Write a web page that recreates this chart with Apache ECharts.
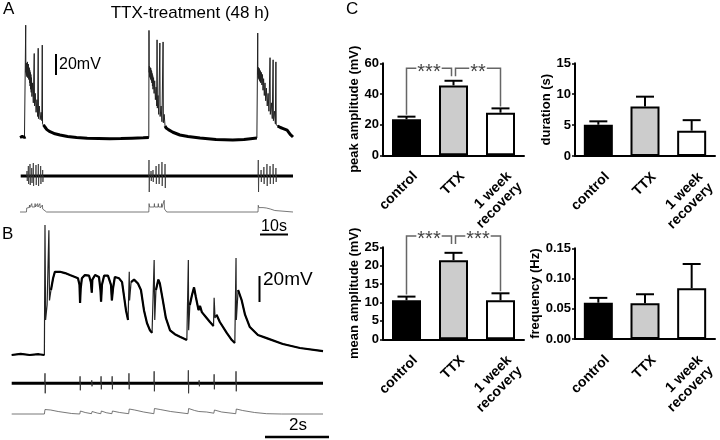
<!DOCTYPE html>
<html><head><meta charset="utf-8">
<script src="https://cdn.jsdelivr.net/npm/echarts@6/dist/echarts.min.js"></script>
<style>html,body{margin:0;padding:0;background:#fff}#c{width:720px;height:440px}</style>
</head><body><div id="c"></div>
<script>
// ---------- Panel A (TTX-treatment 48 h), time in s, membrane potential in mV above baseline ----------
const traceA = [
 [0,0],[0.8,1],[1.6,0],[2.0,0.5],
 [2.04,107],[2.1,62],[2.18,71],[2.26,60],[2.34,70],[2.42,58],[2.5,71],[2.58,59],[2.66,72],[2.74,57],[2.82,69],[2.9,58],[2.98,70],[3.06,56],[3.14,67],[3.22,55],[3.3,66],[3.4,52],[3.5,64],[3.6,49],[3.7,62],[3.8,46],[3.9,60],[4.0,43],[4.1,57],[4.25,39],[4.5,52],[4.75,33],[5.08,80],[5.18,30],[5.45,42],[5.75,24],[6.05,36],[6.3,20],[6.5,85],[6.6,18],[6.9,30],[7.2,17],[7.55,24],[7.8,16],[7.95,88],[8.05,13],
 [8.4,12],[8.9,10],[9.6,7.5],[10.7,5.5],[12.5,3.5],[14.3,2.4],[17,1],[20.2,0],[24,-0.8],[28,-1],[32,-1.2],[36,-1],[40,-0.6],[44,-0.3],[46.0,0],
 [46.07,102],[46.13,62],[46.22,68],[46.3,58],[46.38,67],[46.46,57],[46.54,66],[46.62,56],[46.7,66],[46.78,55],[46.86,64],[46.94,54],[47.02,63],[47.1,52],[47.2,61],[47.3,49],[47.4,59],[47.5,46],[47.7,57],[47.9,42],[48.1,54],[48.35,36],[48.6,48],[48.85,30],[48.95,93],[49.05,28],[49.3,40],[49.55,22],[49.95,90],[50.05,20],[50.4,30],[50.7,15],[51.1,91],[51.2,14],[51.5,22],
 [51.8,11],[52.2,9],[53,7.5],[54.6,5],[57.1,2.4],[60,1],[64.3,-0.5],[70,-1.8],[76,-2.4],[80,-1.8],[84.6,-0.5],
 [84.9,99.5],[84.96,60],[85.04,67],[85.12,57],[85.2,66],[85.28,56],[85.36,66],[85.44,55],[85.52,65],[85.6,54],[85.7,64],[85.8,53],[85.9,63],[86.0,52],[86.2,62],[86.4,50],[86.6,60],[86.8,45],[87.0,56],[87.25,40],[87.5,52],[87.75,35],[88.0,47],[88.3,30],[88.6,42],[88.9,25],[89.3,76],[89.4,22],[89.8,33],[90.1,18],[90.4,74],[90.5,16],[90.9,25],[91.2,13],[91.4,72],[91.5,12],
 [92,11],[93,9.5],[94,8.5],[95.4,7],[96.5,3],[97.5,0.5]
];
const burstWindowsA = [[2.02,8.1],[46.05,51.6],[84.88,91.55]];
// extracellular spikes: [time s, upward, downward]
const extraSpikesA = [
 [2.5,5,5],[2.98,10,8],[3.57,12,9],[4.2,8,7],[4.76,13,10],[5.71,11,9],[6.55,12,10],[7.38,10,8],[8.1,6,6],
 [46.07,16,16],[46.8,5,5],[47.5,6,6],[48.6,10,8],[49.6,12,8],[50.7,14,10],[51.8,12,12],
 [85.1,16,16],[86.1,6,6],[87.1,9,8],[88.2,12,10],[89.3,10,8],[90.4,12,8],[91.4,8,6]
];
const extraBaseA = [[0.25,0],[97.5,0]];
const integratedA = [
 [0,0],[2.3,0],[2.4,4],[3.3,4.5],[3.4,7],[3.5,4.5],[4.1,5],[4.2,8.4],[4.3,5],[5.3,5],[5.4,8.4],[5.5,5],[6.2,5],[6.3,8.4],[6.4,5],[7.0,5],[7.1,8.4],[7.2,4],[7.9,4],[8.0,7],[8.1,3],[8.6,1],[9.5,0],
 [46.0,0],[46.1,8.4],[46.3,5],[47.9,5],[48.0,8.4],[48.1,5],[49.3,5],[49.4,8.4],[49.5,5],[50.5,5],[50.6,8.4],[50.7,4.5],[51.4,4.5],[51.5,11.7],[51.6,3],[52.0,1],[52.4,0],
 [85.0,0],[85.1,6.7],[85.3,4.4],[86.8,4.4],[86.9,6],[87.0,4],[88.0,4],[88.1,5.5],[88.2,3.5],[89.4,3],[89.5,5],[89.6,2.5],[91.0,1.5],[91.1,3.5],[91.2,1],[91.7,0],[97.5,0]
];

// ---------- Panel B ----------
const traceB = [
 [0,0],[0.3,0.8],[0.6,0],[0.9,0.6],[1.09,0],
 [1.11,100],[1.13,27],[1.18,38.5],[1.24,96],[1.26,42],[1.31,50],[1.38,59],[1.44,64],[1.61,64],[1.78,63],[1.94,61.5],[2.11,60],[2.21,59],[2.26,54],[2.28,40],[2.3,51],[2.34,59],[2.44,61.5],[2.58,61],[2.64,56],[2.67,48],[2.69,58],[2.78,61.5],[2.91,60],[2.96,50],[2.98,41],[3.01,54],[3.08,61],[3.21,61],[3.31,54],[3.34,42],[3.38,51.5],[3.44,60],[3.58,59],[3.68,56],[3.74,46],[3.81,34.5],[3.88,27],
 [3.92,64],[3.93,42],[3.98,56],[4.08,58],[4.21,55],[4.31,50],[4.41,34.5],[4.51,24.6],[4.61,19],[4.68,17],
 [4.75,73],[4.77,27],[4.81,50],[4.89,58],[4.94,55],[5.04,42],[5.14,28.5],[5.28,19],[5.44,16],[5.61,14],[5.84,11.5],
 [5.89,73],[5.9,19],[5.94,38.5],[6.01,46],[6.08,52],[6.14,44.6],[6.23,34.6],[6.28,37.7],[6.34,33],[6.5,28.5],[6.61,25.4],[6.73,22.3],
 [6.75,44],[6.78,28.5],[6.83,31],[6.94,25.4],[7.17,17],[7.34,11.5],[7.44,9.2],
 [7.48,74.6],[7.49,27],[7.55,50],[7.67,42],[7.78,31],[7.94,21.5],[8.21,15.4],[8.5,13],[9.04,8.5],[9.61,5.4],[10.38,3]
];
const spikeWindowsB = [[1.10,1.27],[3.91,3.94],[4.74,4.78],[5.88,5.91],[6.74,6.79],[7.47,7.5]];
const extraSpikesB = [[1.11,10,10],[2.28,7,7],[2.67,3,3],[2.98,7,6],[3.35,7,6],[3.91,10,6],[4.75,12,8],[5.89,13,10],[6.25,3,3],[6.75,9,6],[7.48,12,8]];
const extraBaseB = [[0,0],[10.38,0]];
const integratedB = [
 [0,0],[1.09,0],[1.11,4.5],[1.3,4],[1.55,2.5],[2.0,0.5],[2.27,0],[2.29,3],[2.45,1.5],[2.66,0.3],[2.68,2.5],[2.85,1],[2.97,0.3],[2.99,3],[3.15,1.3],[3.34,0.3],[3.36,3],[3.6,1.5],[3.9,0.3],
 [3.92,5],[4.1,4],[4.4,2],[4.74,0.3],[4.76,5.5],[4.95,4.5],[5.3,2.5],[5.88,0.3],[5.9,5.5],[6.1,3.5],[6.24,2.5],[6.26,3.5],[6.5,2],[6.74,0.8],[6.76,4],[7.0,2],[7.47,0.3],[7.49,5],[7.7,3.5],[8.1,1.5],[8.5,0.3],[9.0,0],[10.38,0]
];

// ---------- Panel C: mean and SEM ----------
const categories = ['control', 'TTX', '1 week\nrecovery'];
const peakAmpMean = [23.5, 45.6, 27.8];
const peakAmpSem  = [1.7, 3.0, 2.8];
const durationMean = [5.06, 8.0, 4.1];
const durationSem  = [0.55, 1.6, 1.7];
const meanAmpMean = [10.6, 21.5, 10.6];
const meanAmpSem  = [1.0, 2.0, 1.9];
const freqMean = [0.060, 0.059, 0.084];
const freqSem  = [0.008, 0.015, 0.040];
const peakTicks = [0, 20, 40, 60];
const durationTicks = [0, 5, 10, 15];
const meanAmpTicks = [0, 5, 10, 15, 20, 25];
const freqTicks = [0, 0.05, 0.10, 0.15];
// significance: [label, from index, to index, bracket level]
const peakSig = [['***', 0, 1, 56.7], ['**', 1, 2, 56.7]];
const meanAmpSig = [['***', 0, 1, 28.1], ['***', 1, 2, 28.1]];

// ---------- helpers ----------
const FONT = 'Liberation Sans, Arial, Helvetica, sans-serif';
function withBreaks(pts, windows) {
  const out = []; let inside = false;
  for (const p of pts) {
    const w = windows.some(([a, b]) => p[0] >= a && p[0] <= b);
    if (w) { if (!inside) { out.push([p[0], '-']); inside = true; } }
    else { out.push(p); inside = false; }
  }
  return out;
}
function spikePolyline(spikes, w) {
  const out = [];
  for (const [t, up, down] of spikes) {
    out.push([t - w, 0], [t, up], [t + w, -down], [t + 2 * w, 0], [t + 2 * w, '-']);
  }
  return out;
}

const grids = [], xAxes = [], yAxes = [], series = [];
function traceGrid(left, top, width, height, xmin, xmax, ymin, ymax) {
  grids.push({ left, top, width, height });
  const gi = grids.length - 1;
  xAxes.push({ type: 'value', gridIndex: gi, min: xmin, max: xmax, show: false });
  yAxes.push({ type: 'value', gridIndex: gi, min: ymin, max: ymax, show: false });
  return gi;
}
function line(gi, data, width, color) {
  series.push({ type: 'line', xAxisIndex: gi, yAxisIndex: gi, data, showSymbol: false, symbol: 'none',
    clip: false, connectNulls: false, lineStyle: { width, color }, silent: true });
}

// Panel A grids
const gA1 = traceGrid(20, 22, 273, 126, 0, 97.5, -10, 110);
line(gA1, traceA, 1, '#222');
line(gA1, withBreaks(traceA, burstWindowsA), 3, '#000');
const gA2 = traceGrid(20, 158, 273, 36, 0, 97.5, -18, 18);
line(gA2, extraBaseA, 3, '#000');
line(gA2, spikePolyline(extraSpikesA, 0.09), 0.8, '#333');
const gA3 = traceGrid(20, 196, 273, 18, 0, 97.5, -2, 16);
line(gA3, integratedA, 0.8, '#555');

// Panel B grids
const gB1 = traceGrid(11.7, 225, 311.3, 136.5, 0, 10.38, -5, 100);
line(gB1, traceB, 1.2, '#222');
line(gB1, withBreaks(traceB, spikeWindowsB), 2.2, '#000');
const gB2 = traceGrid(11.7, 368.3, 311.3, 30, 0, 10.38, -15, 15);
line(gB2, extraBaseB, 3, '#000');
line(gB2, spikePolyline(extraSpikesB, 0.008), 0.9, '#333');
const gB3 = traceGrid(11.7, 404, 311.3, 12, 0, 10.38, -2, 10);
line(gB3, integratedB, 0.8, '#555');

// Panel C bar charts
const barFills = ['#000000', '#cccccc', '#ffffff'];
function barChart(cfg) {
  grids.push({ left: cfg.left, top: cfg.top, width: cfg.width, height: cfg.height });
  const gi = grids.length - 1;
  const ticks = cfg.ticks;
  xAxes.push({
    type: 'category', gridIndex: gi, data: categories,
    axisLine: { lineStyle: { color: '#000', width: 2 } },
    axisTick: { alignWithLabel: true, length: 3, lineStyle: { color: '#000', width: 1.5 } },
    axisLabel: { rotate: 45, interval: 0, margin: 10, color: '#000', fontSize: 14, fontWeight: 'bold', fontFamily: FONT,
      lineHeight: 15, hideOverlap: false, verticalAlign: 'top', padding: [5, 0, 0, 0] },
    splitLine: { show: false }
  });
  yAxes.push({
    type: 'value', gridIndex: gi, min: ticks[0], max: ticks[ticks.length - 1], interval: ticks[1] - ticks[0],
    name: cfg.name, nameLocation: 'middle', nameGap: cfg.nameGap, nameRotate: 90,
    nameTextStyle: { color: '#000', fontSize: 13, fontWeight: 'bold', fontFamily: FONT },
    axisLine: { show: true, lineStyle: { color: '#000', width: 2 } },
    axisTick: { show: true, length: 3, lineStyle: { color: '#000', width: 1.5 } },
    axisLabel: { margin: 4, color: '#000', fontSize: 13, fontWeight: 'bold', fontFamily: FONT, formatter: cfg.fmt },
    splitLine: { show: false }
  });
  series.push({
    type: 'bar', xAxisIndex: gi, yAxisIndex: gi, barWidth: 29, silent: true,
    data: cfg.mean.map((v, i) => ({ value: v, itemStyle: { color: barFills[i] } })),
    itemStyle: { borderColor: '#000', borderWidth: 2 }
  });
  series.push({
    type: 'custom', xAxisIndex: gi, yAxisIndex: gi, silent: true, z: 5,
    data: cfg.mean.map((v, i) => [i, v, cfg.sem[i]]),
    encode: { x: 0, y: 1 },
    renderItem: function (params, api) {
      const p0 = api.coord([api.value(0), api.value(1)]);
      const p1 = api.coord([api.value(0), api.value(1) + api.value(2)]);
      return { type: 'group', children: [
        { type: 'line', shape: { x1: p0[0], y1: p0[1], x2: p1[0], y2: p1[1] }, style: { stroke: '#000', lineWidth: 2 } },
        { type: 'line', shape: { x1: p1[0] - 9, y1: p1[1], x2: p1[0] + 9, y2: p1[1] }, style: { stroke: '#000', lineWidth: 2 } }
      ] };
    }
  });
  if (cfg.sig) {
    const sig = cfg.sig;
    const count = {};
    sig.forEach(s => { count[s[1]] = (count[s[1]] || 0) + 1; count[s[2]] = (count[s[2]] || 0) + 1; });
    series.push({
      type: 'custom', xAxisIndex: gi, yAxisIndex: gi, silent: true, z: 6, clip: false,
      data: sig.map(s => [s[1], s[3]]),
      encode: { x: 0, y: 1 },
      renderItem: function (params, api) {
        const s = sig[params.dataIndex];
        const a = s[1], b = s[2];
        const shA = count[a] > 1, shB = count[b] > 1;
        const yTop = api.coord([a, s[3]])[1];
        const xa = api.coord([a, 0])[0] + (shA ? 2 : 0);
        const xb = api.coord([b, 0])[0] - (shB ? 2 : 0);
        const ya = api.coord([a, cfg.mean[a] + cfg.sem[a]])[1] - 2;
        const yb = api.coord([b, cfg.mean[b] + cfg.sem[b]])[1] - 2;
        const yaEnd = shA ? yTop + 8 : ya;
        const ybEnd = shB ? yTop + 8 : yb;
        return { type: 'group', children: [
          { type: 'polyline', shape: { points: [[xa, yaEnd], [xa, yTop], [xb, yTop], [xb, ybEnd]] },
            style: { stroke: '#666', lineWidth: 1.5, fill: null } },
          { type: 'text', x: (xa + xb) / 2, y: yTop + 4,
            style: { text: s[0], font: '20px ' + FONT, fill: '#444', align: 'center', verticalAlign: 'middle',
              backgroundColor: '#fff', padding: [0, 1] } }
        ] };
      }
    });
  }
}
barChart({ left: 383, top: 63.3, width: 141, height: 92, mean: peakAmpMean, sem: peakAmpSem, ticks: peakTicks,
  name: 'peak amplitude (mV)', nameGap: 13, sig: peakSig });
barChart({ left: 575, top: 63.3, width: 140, height: 92.7, mean: durationMean, sem: durationSem, ticks: durationTicks,
  name: 'duration (s)', nameGap: 18 });
barChart({ left: 383, top: 247.3, width: 141, height: 92, mean: meanAmpMean, sem: meanAmpSem, ticks: meanAmpTicks,
  name: 'mean amplitude (mV)', nameGap: 16, sig: meanAmpSig });
barChart({ left: 575, top: 248.3, width: 140, height: 90.7, mean: freqMean, sem: freqSem, ticks: freqTicks,
  name: 'frequency (Hz)', nameGap: 32, fmt: v => v.toFixed(2) });

// ---------- labels and scale bars ----------
function txt(text, x, y, size, align, weight) {
  return { type: 'text', silent: true, style: { text, x, y, font: (weight || 'normal') + ' ' + size + 'px ' + FONT, fill: '#000',
    textAlign: align || 'left', align: align || 'left', textVerticalAlign: 'middle', verticalAlign: 'middle' } };
}
function bar(x1, y1, x2, y2, w) {
  return { type: 'line', silent: true, shape: { x1, y1, x2, y2 }, style: { stroke: '#000', lineWidth: w || 2 } };
}
const graphics = [
  txt('A', 3, 9.5, 17), txt('B', 2, 234, 17), txt('C', 346, 9.5, 17),
  txt('TTX-treatment (48 h)', 190, 13.5, 17, 'center'),
  bar(56, 54, 56, 75, 2), txt('20mV', 59, 65, 16),
  txt('10s', 274, 227, 16, 'center'), bar(260, 234.5, 288, 234.5, 2),
  bar(259.5, 276, 259.5, 302, 2), txt('20mV', 263, 280, 19),
  txt('2s', 298, 425, 17, 'center'), bar(265, 437, 329, 437, 2.5)
];

const chart = echarts.init(document.getElementById('c'), null, { renderer: 'canvas', width: 720, height: 440 });
chart.setOption({
  animation: false, backgroundColor: '#fff',
  grid: grids, xAxis: xAxes, yAxis: yAxes, series, graphic: { elements: graphics }
});
</script></body></html>
